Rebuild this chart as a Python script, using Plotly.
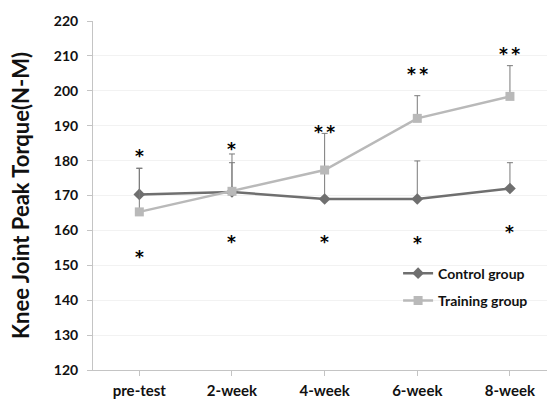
import plotly.graph_objects as go

# Measurement time points
categories = ["pre-test", "2-week", "4-week", "6-week", "8-week"]

# Knee joint peak torque (N-M): mean and upper SD
control_mean = [170.3, 171.0, 169.0, 169.0, 172.0]
control_sd = [7.5, 8.4, 8.0, 10.9, 7.4]
training_mean = [165.3, 171.2, 177.3, 192.1, 198.4]
training_sd = [12.5, 10.7, 10.5, 6.5, 8.8]

# Significance marks above and below each time point
upper_marks = ["*", "*", "*\u2009*", "*\u2009*", "*\u2009*"]
upper_mark_y = [182.6, 184.6, 189.4, 206.1, 211.8]
lower_marks = ["*", "*", "*", "*", "*"]
lower_mark_y = [153.4, 157.8, 157.8, 157.5, 160.6]

FONT = "Lato"
STAR_FONT = "DejaVu Sans"
x_idx = list(range(len(categories)))

fig = go.Figure()

fig.add_trace(go.Scatter(
    x=x_idx, y=control_mean, name="Control group", mode="lines+markers",
    legendgroup="c",
    line=dict(color="#6f6f6f", width=2.5),
    marker=dict(symbol="diamond", size=9, color="#6f6f6f"),
    error_y=dict(type="data", array=control_sd, symmetric=False, arrayminus=[0] * 5,
                 color="#7a7a7a", thickness=1, width=3),
))
fig.add_trace(go.Scatter(
    x=x_idx, y=training_mean, name="Training group", mode="lines+markers",
    legendgroup="t",
    line=dict(color="#b9b9b9", width=2.5),
    marker=dict(symbol="square", size=9, color="#b9b9b9"),
    error_y=dict(type="data", array=training_sd, symmetric=False, arrayminus=[0] * 5,
                 color="#7a7a7a", thickness=1, width=3),
))

star_font = dict(family=STAR_FONT, size=17, weight="bold", color="#000000")
for i, (t, y) in enumerate(zip(upper_marks, upper_mark_y)):
    fig.add_annotation(x=i, y=y, text=t, showarrow=False, xref="x", yref="y",
                       yanchor="middle", yshift=-4, font=star_font)
for i, (t, y) in enumerate(zip(lower_marks, lower_mark_y)):
    fig.add_annotation(x=i, y=y, text=t, showarrow=False, xref="x", yref="y",
                       yanchor="middle", yshift=-4, font=star_font)

fig.update_layout(
    width=547, height=400,
    margin=dict(l=93, r=0, t=21, b=30),
    paper_bgcolor="white", plot_bgcolor="white",
    font=dict(family=FONT, color="#111111"),
    showlegend=True,
    legend=dict(x=0.672, y=0.322, xanchor="left", yanchor="top",
                bgcolor="rgba(0,0,0,0)", tracegroupgap=6,
                font=dict(family=FONT, size=14, weight="bold", color="#111111"),
                itemwidth=30),
)

fig.update_xaxes(
    tickmode="array", tickvals=x_idx, ticktext=categories,
    range=[-0.5, 4.4], tickson="boundaries", automargin=False,
    showline=True, linecolor="#c4c4c4", linewidth=1,
    ticks="outside", ticklen=5, tickcolor="#c4c4c4",
    showgrid=False, zeroline=False, ticklabelstandoff=2,
    tickfont=dict(family=FONT, size=15, weight="bold", color="#111111"),
)
fig.update_yaxes(
    range=[120, 220], dtick=10, automargin=False,
    showline=True, linecolor="#c4c4c4", linewidth=1,
    ticks="outside", ticklen=5, tickcolor="#c4c4c4",
    showgrid=True, gridcolor="#f2f2f2", gridwidth=1, zeroline=False,
    ticklabelstandoff=6,
    tickfont=dict(family=FONT, size=14, weight="bold", color="#111111"),
    title=dict(text="Knee Joint Peak Torque(N-M)", standoff=18,
               font=dict(family=FONT, size=22, weight="bold", color="#111111")),
)

fig.write_html("out.html")
